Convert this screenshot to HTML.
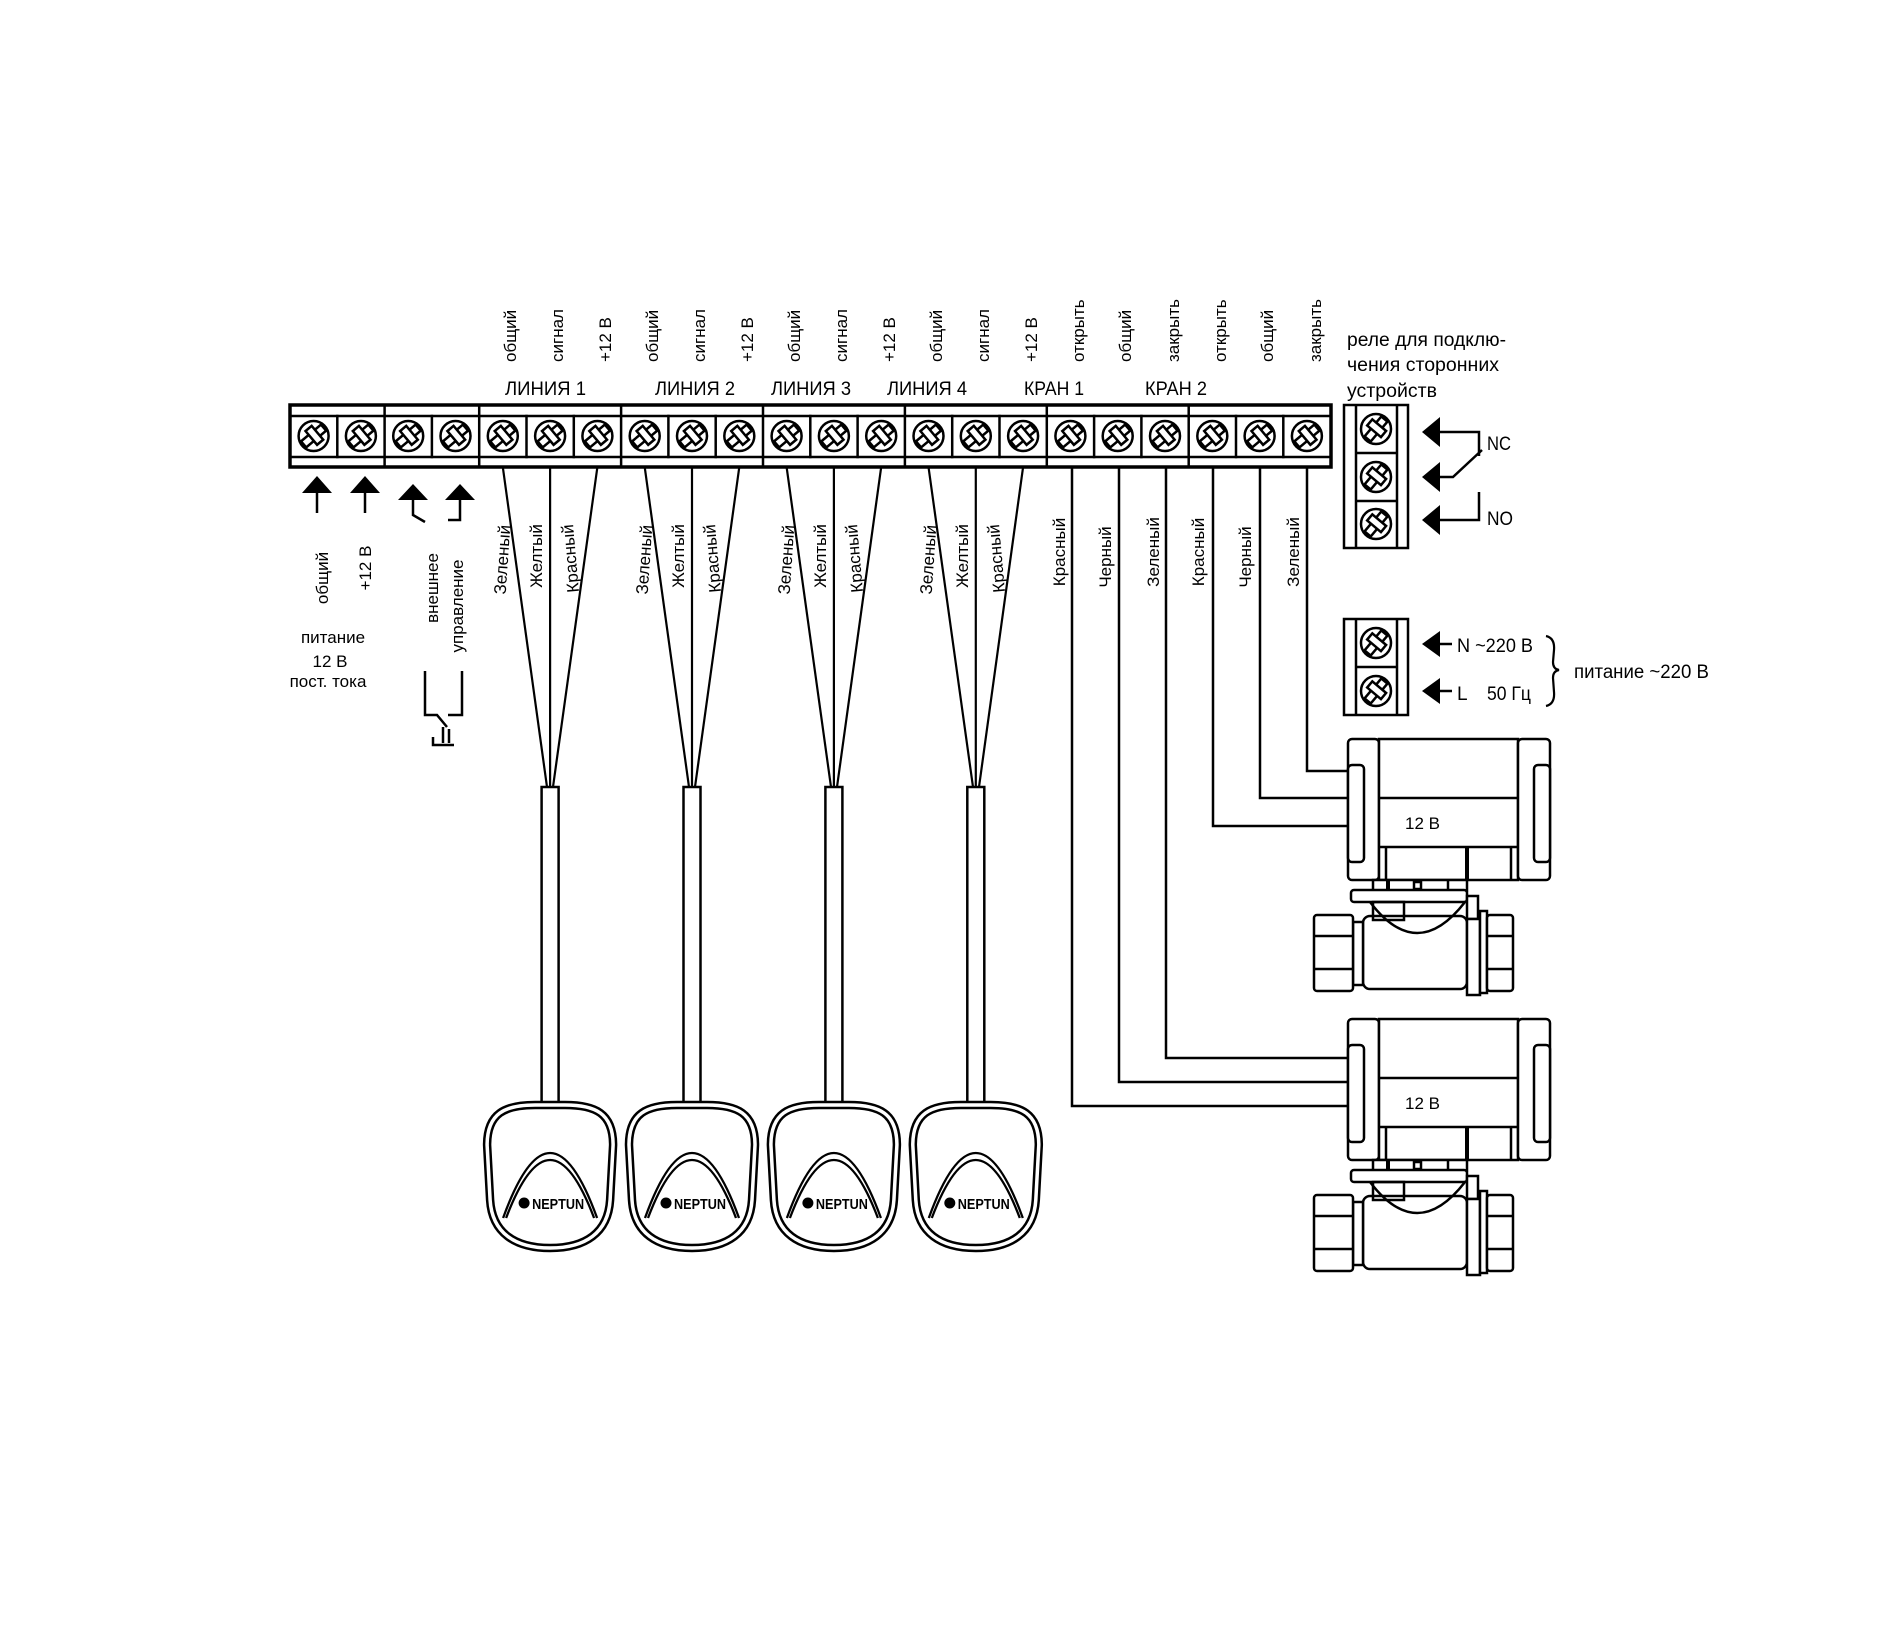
<!DOCTYPE html>
<html><head><meta charset="utf-8"><style>
html,body{margin:0;padding:0;background:#fff;}
svg{display:block;}
text{font-family:"Liberation Sans",sans-serif;fill:#000;}
</style></head><body>
<svg width="1900" height="1652" viewBox="0 0 1900 1652" xmlns="http://www.w3.org/2000/svg">
<rect width="1900" height="1652" fill="#fff"/>
<g stroke="#000" fill="none" stroke-linecap="square">
<rect x="290" y="405" width="1041" height="62" stroke-width="3.5"/>
<line x1="290" y1="416" x2="1331" y2="416" stroke-width="2.5"/>
<line x1="290" y1="457" x2="1331" y2="457" stroke-width="2.5"/>
<g stroke-width="2.5">
<line x1="337.3" y1="416" x2="337.3" y2="457"/><line x1="384.6" y1="405" x2="384.6" y2="467"/>
<line x1="431.9" y1="416" x2="431.9" y2="457"/><line x1="479.2" y1="405" x2="479.2" y2="467"/>
<line x1="526.5" y1="416" x2="526.5" y2="457"/><line x1="573.8" y1="416" x2="573.8" y2="457"/>
<line x1="621.1" y1="405" x2="621.1" y2="467"/>
<line x1="668.4" y1="416" x2="668.4" y2="457"/><line x1="715.7" y1="416" x2="715.7" y2="457"/>
<line x1="763" y1="405" x2="763" y2="467"/>
<line x1="810.3" y1="416" x2="810.3" y2="457"/><line x1="857.6" y1="416" x2="857.6" y2="457"/>
<line x1="904.9" y1="405" x2="904.9" y2="467"/>
<line x1="952.2" y1="416" x2="952.2" y2="457"/><line x1="999.5" y1="416" x2="999.5" y2="457"/>
<line x1="1046.8" y1="405" x2="1046.8" y2="467"/>
<line x1="1094.1" y1="416" x2="1094.1" y2="457"/><line x1="1141.4" y1="416" x2="1141.4" y2="457"/>
<line x1="1188.7" y1="405" x2="1188.7" y2="467"/>
<line x1="1236" y1="416" x2="1236" y2="457"/><line x1="1283.3" y1="416" x2="1283.3" y2="457"/>
</g>
</g>
<g stroke="#000" stroke-width="2.5" fill="#fff">
<g transform="translate(313.6,436)"><circle r="15"/><rect x="-13" y="-4" width="26" height="8" transform="rotate(-40)"/><rect x="-3" y="-9" width="8" height="18" transform="rotate(-40)"/></g>
<g transform="translate(360.9,436)"><circle r="15"/><rect x="-13" y="-4" width="26" height="8" transform="rotate(-40)"/><rect x="-3" y="-9" width="8" height="18" transform="rotate(-40)"/></g>
<g transform="translate(408.2,436)"><circle r="15"/><rect x="-13" y="-4" width="26" height="8" transform="rotate(-40)"/><rect x="-3" y="-9" width="8" height="18" transform="rotate(-40)"/></g>
<g transform="translate(455.5,436)"><circle r="15"/><rect x="-13" y="-4" width="26" height="8" transform="rotate(-40)"/><rect x="-3" y="-9" width="8" height="18" transform="rotate(-40)"/></g>
<g transform="translate(502.8,436)"><circle r="15"/><rect x="-13" y="-4" width="26" height="8" transform="rotate(-40)"/><rect x="-3" y="-9" width="8" height="18" transform="rotate(-40)"/></g>
<g transform="translate(550.1,436)"><circle r="15"/><rect x="-13" y="-4" width="26" height="8" transform="rotate(-40)"/><rect x="-3" y="-9" width="8" height="18" transform="rotate(-40)"/></g>
<g transform="translate(597.4,436)"><circle r="15"/><rect x="-13" y="-4" width="26" height="8" transform="rotate(-40)"/><rect x="-3" y="-9" width="8" height="18" transform="rotate(-40)"/></g>
<g transform="translate(644.7,436)"><circle r="15"/><rect x="-13" y="-4" width="26" height="8" transform="rotate(-40)"/><rect x="-3" y="-9" width="8" height="18" transform="rotate(-40)"/></g>
<g transform="translate(692,436)"><circle r="15"/><rect x="-13" y="-4" width="26" height="8" transform="rotate(-40)"/><rect x="-3" y="-9" width="8" height="18" transform="rotate(-40)"/></g>
<g transform="translate(739.3,436)"><circle r="15"/><rect x="-13" y="-4" width="26" height="8" transform="rotate(-40)"/><rect x="-3" y="-9" width="8" height="18" transform="rotate(-40)"/></g>
<g transform="translate(786.6,436)"><circle r="15"/><rect x="-13" y="-4" width="26" height="8" transform="rotate(-40)"/><rect x="-3" y="-9" width="8" height="18" transform="rotate(-40)"/></g>
<g transform="translate(833.9,436)"><circle r="15"/><rect x="-13" y="-4" width="26" height="8" transform="rotate(-40)"/><rect x="-3" y="-9" width="8" height="18" transform="rotate(-40)"/></g>
<g transform="translate(881.2,436)"><circle r="15"/><rect x="-13" y="-4" width="26" height="8" transform="rotate(-40)"/><rect x="-3" y="-9" width="8" height="18" transform="rotate(-40)"/></g>
<g transform="translate(928.5,436)"><circle r="15"/><rect x="-13" y="-4" width="26" height="8" transform="rotate(-40)"/><rect x="-3" y="-9" width="8" height="18" transform="rotate(-40)"/></g>
<g transform="translate(975.8,436)"><circle r="15"/><rect x="-13" y="-4" width="26" height="8" transform="rotate(-40)"/><rect x="-3" y="-9" width="8" height="18" transform="rotate(-40)"/></g>
<g transform="translate(1023.1,436)"><circle r="15"/><rect x="-13" y="-4" width="26" height="8" transform="rotate(-40)"/><rect x="-3" y="-9" width="8" height="18" transform="rotate(-40)"/></g>
<g transform="translate(1070.4,436)"><circle r="15"/><rect x="-13" y="-4" width="26" height="8" transform="rotate(-40)"/><rect x="-3" y="-9" width="8" height="18" transform="rotate(-40)"/></g>
<g transform="translate(1117.7,436)"><circle r="15"/><rect x="-13" y="-4" width="26" height="8" transform="rotate(-40)"/><rect x="-3" y="-9" width="8" height="18" transform="rotate(-40)"/></g>
<g transform="translate(1165,436)"><circle r="15"/><rect x="-13" y="-4" width="26" height="8" transform="rotate(-40)"/><rect x="-3" y="-9" width="8" height="18" transform="rotate(-40)"/></g>
<g transform="translate(1212.3,436)"><circle r="15"/><rect x="-13" y="-4" width="26" height="8" transform="rotate(-40)"/><rect x="-3" y="-9" width="8" height="18" transform="rotate(-40)"/></g>
<g transform="translate(1259.6,436)"><circle r="15"/><rect x="-13" y="-4" width="26" height="8" transform="rotate(-40)"/><rect x="-3" y="-9" width="8" height="18" transform="rotate(-40)"/></g>
<g transform="translate(1306.9,436)"><circle r="15"/><rect x="-13" y="-4" width="26" height="8" transform="rotate(-40)"/><rect x="-3" y="-9" width="8" height="18" transform="rotate(-40)"/></g>
<g transform="translate(1376,429)"><circle r="15"/><rect x="-13" y="-4" width="26" height="8" transform="rotate(-50)"/><rect x="-3" y="-9" width="8" height="18" transform="rotate(-50)"/></g>
<g transform="translate(1376,477)"><circle r="15"/><rect x="-13" y="-4" width="26" height="8" transform="rotate(-50)"/><rect x="-3" y="-9" width="8" height="18" transform="rotate(-50)"/></g>
<g transform="translate(1376,524)"><circle r="15"/><rect x="-13" y="-4" width="26" height="8" transform="rotate(-50)"/><rect x="-3" y="-9" width="8" height="18" transform="rotate(-50)"/></g>
<g transform="translate(1376,643)"><circle r="15"/><rect x="-13" y="-4" width="26" height="8" transform="rotate(-50)"/><rect x="-3" y="-9" width="8" height="18" transform="rotate(-50)"/></g>
<g transform="translate(1376,691)"><circle r="15"/><rect x="-13" y="-4" width="26" height="8" transform="rotate(-50)"/><rect x="-3" y="-9" width="8" height="18" transform="rotate(-50)"/></g>
</g>

<g font-size="17">
<text transform="translate(516,362) rotate(-90)">общий</text>
<text transform="translate(563,362) rotate(-90)">сигнал</text>
<text transform="translate(611,362) rotate(-90)">+12 В</text>
<text transform="translate(658,362) rotate(-90)">общий</text>
<text transform="translate(705,362) rotate(-90)">сигнал</text>
<text transform="translate(753,362) rotate(-90)">+12 В</text>
<text transform="translate(800,362) rotate(-90)">общий</text>
<text transform="translate(847,362) rotate(-90)">сигнал</text>
<text transform="translate(895,362) rotate(-90)">+12 В</text>
<text transform="translate(942,362) rotate(-90)">общий</text>
<text transform="translate(989,362) rotate(-90)">сигнал</text>
<text transform="translate(1037,362) rotate(-90)">+12 В</text>
<text transform="translate(1084,362) rotate(-90)">открыть</text>
<text transform="translate(1131,362) rotate(-90)">общий</text>
<text transform="translate(1179,362) rotate(-90)">закрыть</text>
<text transform="translate(1226,362) rotate(-90)">открыть</text>
<text transform="translate(1273,362) rotate(-90)">общий</text>
<text transform="translate(1321,362) rotate(-90)">закрыть</text>
</g>
<g font-size="19">
<text x="505" y="395" textLength="81" lengthAdjust="spacingAndGlyphs">ЛИНИЯ 1</text>
<text x="655" y="395" textLength="80" lengthAdjust="spacingAndGlyphs">ЛИНИЯ 2</text>
<text x="771" y="395" textLength="80" lengthAdjust="spacingAndGlyphs">ЛИНИЯ 3</text>
<text x="887" y="395" textLength="80" lengthAdjust="spacingAndGlyphs">ЛИНИЯ 4</text>
<text x="1024" y="395" textLength="60" lengthAdjust="spacingAndGlyphs">КРАН 1</text>
<text x="1145" y="395" textLength="62" lengthAdjust="spacingAndGlyphs">КРАН 2</text>
<text x="1347" y="346" textLength="159" lengthAdjust="spacingAndGlyphs">реле для подклю-</text>
<text x="1347" y="371" textLength="152" lengthAdjust="spacingAndGlyphs">чения сторонних</text>
<text x="1347" y="397" textLength="90" lengthAdjust="spacingAndGlyphs">устройств</text>
<text x="1487" y="450" textLength="24" lengthAdjust="spacingAndGlyphs">NC</text>
<text x="1487" y="525" textLength="26" lengthAdjust="spacingAndGlyphs">NO</text>
<text x="1457" y="652" textLength="76" lengthAdjust="spacingAndGlyphs">N ~220 В</text>
<text x="1457" y="700">L</text>
<text x="1487" y="700" textLength="44" lengthAdjust="spacingAndGlyphs">50 Гц</text>
<text x="1574" y="678" textLength="135" lengthAdjust="spacingAndGlyphs">питание ~220 В</text>
</g>

<g fill="#000">
<polygon points="317,476 302,493 332,493"/><polygon points="365,476 350,493 380,493"/>
<polygon points="413,484 398,500 428,500"/><polygon points="460,484 445,500 475,500"/>
</g>
<g stroke="#000" stroke-width="2.5" fill="none">
<line x1="317" y1="492" x2="317" y2="513"/><line x1="365" y1="492" x2="365" y2="513"/>
<polyline points="413,499 413,515 425,522"/><polyline points="460,499 460,520 448,520"/>
<polyline points="425,671 425,715 437,715 447,727"/>
<polyline points="462,671 462,715 448,715"/>
<polyline points="433,737 433,745 454,745"/>
<line x1="443" y1="727" x2="443" y2="743"/><line x1="449" y1="729" x2="449" y2="743"/>
</g>
<g font-size="17">
<text transform="translate(328,578) rotate(-90)" text-anchor="middle">общий</text>
<text transform="translate(371,568) rotate(-90)" text-anchor="middle">+12 В</text>
<text transform="translate(438,588) rotate(-90)" text-anchor="middle">внешнее</text>
<text transform="translate(463,606) rotate(-90)" text-anchor="middle">управление</text>
<text x="333" y="643" text-anchor="middle">питание</text>
<text x="330" y="667" text-anchor="middle">12 В</text>
<text x="328" y="687" text-anchor="middle">пост. тока</text>
</g>

<g stroke="#000" stroke-width="2.2" fill="none">
<line x1="502.8" y1="467" x2="547" y2="787"/><line x1="550.1" y1="467" x2="550.1" y2="787"/><line x1="597.4" y1="467" x2="553" y2="787"/>
<line x1="644.7" y1="467" x2="689" y2="787"/><line x1="692" y1="467" x2="692" y2="787"/><line x1="739.3" y1="467" x2="695" y2="787"/>
<line x1="786.6" y1="467" x2="831" y2="787"/><line x1="833.9" y1="467" x2="833.9" y2="787"/><line x1="881.2" y1="467" x2="837" y2="787"/>
<line x1="928.5" y1="467" x2="973" y2="787"/><line x1="975.8" y1="467" x2="975.8" y2="787"/><line x1="1023.1" y1="467" x2="979" y2="787"/>
</g>
<g stroke="#000" stroke-width="2.5" fill="#fff">
<rect x="541.6" y="787" width="17" height="320"/>
<rect x="683.5" y="787" width="17" height="320"/>
<rect x="825.4" y="787" width="17" height="320"/>
<rect x="967.3" y="787" width="17" height="320"/>
</g>
<g font-size="17">
<text transform="translate(508,560) rotate(-86)" text-anchor="middle">Зеленый</text>
<text transform="translate(542,556) rotate(-90)" text-anchor="middle">Желтый</text>
<text transform="translate(576,558) rotate(-95)" text-anchor="middle">Красный</text>
<text transform="translate(650,560) rotate(-86)" text-anchor="middle">Зеленый</text>
<text transform="translate(684,556) rotate(-90)" text-anchor="middle">Желтый</text>
<text transform="translate(718,558) rotate(-95)" text-anchor="middle">Красный</text>
<text transform="translate(792,560) rotate(-86)" text-anchor="middle">Зеленый</text>
<text transform="translate(826,556) rotate(-90)" text-anchor="middle">Желтый</text>
<text transform="translate(860,558) rotate(-95)" text-anchor="middle">Красный</text>
<text transform="translate(934,560) rotate(-86)" text-anchor="middle">Зеленый</text>
<text transform="translate(968,556) rotate(-90)" text-anchor="middle">Желтый</text>
<text transform="translate(1002,558) rotate(-95)" text-anchor="middle">Красный</text>
<text transform="translate(1065,552) rotate(-90)" text-anchor="middle">Красный</text>
<text transform="translate(1111,557) rotate(-90)" text-anchor="middle">Черный</text>
<text transform="translate(1159,552) rotate(-90)" text-anchor="middle">Зеленый</text>
<text transform="translate(1204,552) rotate(-90)" text-anchor="middle">Красный</text>
<text transform="translate(1251,557) rotate(-90)" text-anchor="middle">Черный</text>
<text transform="translate(1299,552) rotate(-90)" text-anchor="middle">Зеленый</text>
</g>

<g>
<g transform="translate(550.1,1105)">
<path d="M -15,0 L 15,0 C 45,0 63,8 63,40 L 60,95 C 58,128 35,143 0,143 C -35,143 -58,128 -60,95 L -63,40 C -63,8 -45,0 -15,0 Z" fill="#fff" stroke="#000" stroke-width="8.5"/>
<path d="M -15,0 L 15,0 C 45,0 63,8 63,40 L 60,95 C 58,128 35,143 0,143 C -35,143 -58,128 -60,95 L -63,40 C -63,8 -45,0 -15,0 Z" fill="none" stroke="#fff" stroke-width="3.5"/>
<path d="M -47,113 Q 0,-17 47,113 M -44,113 Q 0,-3 44,113" fill="none" stroke="#000" stroke-width="2.3"/>
<circle cx="-26" cy="98" r="5.5" fill="#000"/>
<text x="-18" y="104" font-size="15" font-weight="bold" textLength="52" lengthAdjust="spacingAndGlyphs">NEPTUN</text>
</g>
<g transform="translate(692,1105)">
<path d="M -15,0 L 15,0 C 45,0 63,8 63,40 L 60,95 C 58,128 35,143 0,143 C -35,143 -58,128 -60,95 L -63,40 C -63,8 -45,0 -15,0 Z" fill="#fff" stroke="#000" stroke-width="8.5"/>
<path d="M -15,0 L 15,0 C 45,0 63,8 63,40 L 60,95 C 58,128 35,143 0,143 C -35,143 -58,128 -60,95 L -63,40 C -63,8 -45,0 -15,0 Z" fill="none" stroke="#fff" stroke-width="3.5"/>
<path d="M -47,113 Q 0,-17 47,113 M -44,113 Q 0,-3 44,113" fill="none" stroke="#000" stroke-width="2.3"/>
<circle cx="-26" cy="98" r="5.5" fill="#000"/>
<text x="-18" y="104" font-size="15" font-weight="bold" textLength="52" lengthAdjust="spacingAndGlyphs">NEPTUN</text>
</g>
<g transform="translate(833.9,1105)">
<path d="M -15,0 L 15,0 C 45,0 63,8 63,40 L 60,95 C 58,128 35,143 0,143 C -35,143 -58,128 -60,95 L -63,40 C -63,8 -45,0 -15,0 Z" fill="#fff" stroke="#000" stroke-width="8.5"/>
<path d="M -15,0 L 15,0 C 45,0 63,8 63,40 L 60,95 C 58,128 35,143 0,143 C -35,143 -58,128 -60,95 L -63,40 C -63,8 -45,0 -15,0 Z" fill="none" stroke="#fff" stroke-width="3.5"/>
<path d="M -47,113 Q 0,-17 47,113 M -44,113 Q 0,-3 44,113" fill="none" stroke="#000" stroke-width="2.3"/>
<circle cx="-26" cy="98" r="5.5" fill="#000"/>
<text x="-18" y="104" font-size="15" font-weight="bold" textLength="52" lengthAdjust="spacingAndGlyphs">NEPTUN</text>
</g>
<g transform="translate(975.8,1105)">
<path d="M -15,0 L 15,0 C 45,0 63,8 63,40 L 60,95 C 58,128 35,143 0,143 C -35,143 -58,128 -60,95 L -63,40 C -63,8 -45,0 -15,0 Z" fill="#fff" stroke="#000" stroke-width="8.5"/>
<path d="M -15,0 L 15,0 C 45,0 63,8 63,40 L 60,95 C 58,128 35,143 0,143 C -35,143 -58,128 -60,95 L -63,40 C -63,8 -45,0 -15,0 Z" fill="none" stroke="#fff" stroke-width="3.5"/>
<path d="M -47,113 Q 0,-17 47,113 M -44,113 Q 0,-3 44,113" fill="none" stroke="#000" stroke-width="2.3"/>
<circle cx="-26" cy="98" r="5.5" fill="#000"/>
<text x="-18" y="104" font-size="15" font-weight="bold" textLength="52" lengthAdjust="spacingAndGlyphs">NEPTUN</text>
</g>
</g>

<g stroke="#000" stroke-width="2.5" fill="none">
<polyline points="1072,467 1072,1106 1348,1106"/>
<polyline points="1119,467 1119,1082 1348,1082"/>
<polyline points="1166,467 1166,1058 1348,1058"/>
<polyline points="1213,467 1213,826 1348,826"/>
<polyline points="1260,467 1260,798 1348,798"/>
<polyline points="1307,467 1307,771 1348,771"/>
</g>

<g stroke="#000" stroke-width="2.5" fill="none">
<rect x="1344" y="405" width="64" height="143"/>
<line x1="1356" y1="405" x2="1356" y2="548"/><line x1="1397" y1="405" x2="1397" y2="548"/>
<line x1="1356" y1="453" x2="1397" y2="453"/><line x1="1356" y1="501" x2="1397" y2="501"/>
<rect x="1344" y="619" width="64" height="96"/>
<line x1="1356" y1="619" x2="1356" y2="715"/><line x1="1397" y1="619" x2="1397" y2="715"/>
<line x1="1356" y1="667" x2="1397" y2="667"/>
<polyline points="1438,432 1479,432 1479,456"/>
<polyline points="1438,477 1453,477 1482,450"/>
<polyline points="1438,520 1479,520 1479,492"/>
<line x1="1438" y1="644" x2="1452" y2="644"/>
<line x1="1438" y1="691" x2="1452" y2="691"/>
<path d="M1546,636 Q1555,638 1554,650 L1553,662 Q1553,669 1559,670 Q1553,671 1553,678 L1554,692 Q1555,704 1546,706" stroke-width="2.2"/>
</g>
<g fill="#000">
<polygon points="1422,432 1440,417 1440,447"/>
<polygon points="1422,477 1440,462 1440,492"/>
<polygon points="1422,520 1440,505 1440,535"/>
<polygon points="1422,644 1440,631 1440,657"/>
<polygon points="1422,691 1440,678 1440,704"/>
</g>

<g stroke="#000" stroke-width="2.5" fill="#fff">
<rect x="1348" y="739" width="31" height="141" rx="4"/>
<rect x="1379" y="739" width="139" height="141"/>
<rect x="1518" y="739" width="32" height="141" rx="4"/>
<rect x="1348" y="765" width="16" height="97" rx="4"/>
<rect x="1534" y="765" width="16" height="97" rx="4"/>
<line x1="1379" y1="798" x2="1518" y2="798"/>
<line x1="1379" y1="847" x2="1518" y2="847"/>
<line x1="1386" y1="847" x2="1386" y2="880"/>
<line x1="1467" y1="847" x2="1467" y2="880" stroke-width="4"/>
<line x1="1511" y1="847" x2="1511" y2="880"/>
<rect x="1373" y="880" width="94" height="11"/>
<line x1="1388" y1="880" x2="1388" y2="891" stroke-width="4"/>
<rect x="1414" y="882" width="7" height="7"/>
<line x1="1448" y1="880" x2="1448" y2="891"/>
<rect x="1351" y="890" width="116" height="12" rx="3"/>
<rect x="1467" y="896" width="11" height="23"/>
<rect x="1363" y="916" width="104" height="73" rx="7"/>
<path d="M1370,902 Q1417,964 1465,902" fill="none"/>
<rect x="1373" y="902" width="31" height="18" fill="none"/>
<rect x="1353" y="922" width="10" height="63"/>
<rect x="1314" y="915" width="39" height="76" rx="3"/>
<line x1="1314" y1="936" x2="1353" y2="936"/><line x1="1314" y1="969" x2="1353" y2="969"/>
<rect x="1467" y="919" width="13" height="76"/>
<rect x="1480" y="911" width="7" height="82"/>
<rect x="1487" y="915" width="26" height="76" rx="3"/>
<line x1="1487" y1="936" x2="1513" y2="936"/><line x1="1487" y1="969" x2="1513" y2="969"/>
</g>
<g transform="translate(0,280)" stroke="#000" stroke-width="2.5" fill="#fff">
<rect x="1348" y="739" width="31" height="141" rx="4"/>
<rect x="1379" y="739" width="139" height="141"/>
<rect x="1518" y="739" width="32" height="141" rx="4"/>
<rect x="1348" y="765" width="16" height="97" rx="4"/>
<rect x="1534" y="765" width="16" height="97" rx="4"/>
<line x1="1379" y1="798" x2="1518" y2="798"/>
<line x1="1379" y1="847" x2="1518" y2="847"/>
<line x1="1386" y1="847" x2="1386" y2="880"/>
<line x1="1467" y1="847" x2="1467" y2="880" stroke-width="4"/>
<line x1="1511" y1="847" x2="1511" y2="880"/>
<rect x="1373" y="880" width="94" height="11"/>
<line x1="1388" y1="880" x2="1388" y2="891" stroke-width="4"/>
<rect x="1414" y="882" width="7" height="7"/>
<line x1="1448" y1="880" x2="1448" y2="891"/>
<rect x="1351" y="890" width="116" height="12" rx="3"/>
<rect x="1467" y="896" width="11" height="23"/>
<rect x="1363" y="916" width="104" height="73" rx="7"/>
<path d="M1370,902 Q1417,964 1465,902" fill="none"/>
<rect x="1373" y="902" width="31" height="18" fill="none"/>
<rect x="1353" y="922" width="10" height="63"/>
<rect x="1314" y="915" width="39" height="76" rx="3"/>
<line x1="1314" y1="936" x2="1353" y2="936"/><line x1="1314" y1="969" x2="1353" y2="969"/>
<rect x="1467" y="919" width="13" height="76"/>
<rect x="1480" y="911" width="7" height="82"/>
<rect x="1487" y="915" width="26" height="76" rx="3"/>
<line x1="1487" y1="936" x2="1513" y2="936"/><line x1="1487" y1="969" x2="1513" y2="969"/>
</g>
<text x="1405" y="829" font-size="17">12 В</text>
<text x="1405" y="1109" font-size="17">12 В</text>
</svg>
</body></html>
